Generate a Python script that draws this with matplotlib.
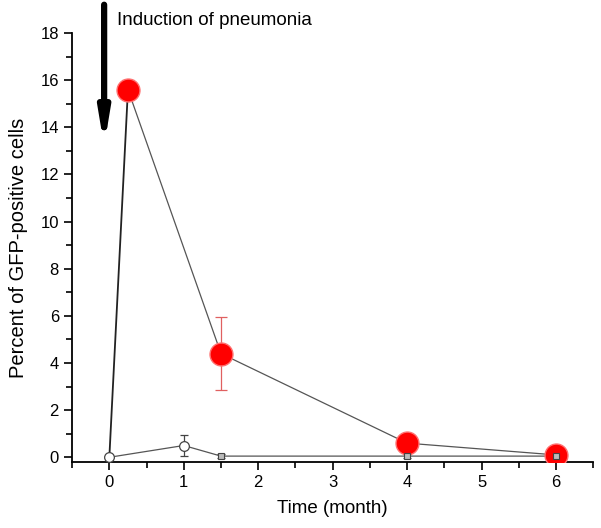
import matplotlib.pyplot as plt
import numpy as np

plt.rcParams['font.family'] = ['Liberation Sans', 'DejaVu Sans']

# --- data ---
# GFP-positive cells after pneumonia induction
red_x = [0.25, 1.5, 4, 6]
red_y = [15.6, 4.4, 0.6, 0.1]
red_err = [0.4, 1.55, 0.15, 0.1]

# control (no pneumonia)
ctrl_x = [0, 1, 1.5, 4, 6]
ctrl_y = [0.0, 0.5, 0.05, 0.05, 0.05]
ctrl_err = [0.0, 0.45, 0.1, 0.1, 0.1]

fig = plt.figure(figsize=(6.01, 5.28), dpi=100)
ax = fig.add_axes([0.12, 0.125, 0.867, 0.8125])

# induction line from baseline to the first red point
ax.plot([ctrl_x[0], red_x[0]], [ctrl_y[0], red_y[0]], color='#222222', lw=1.3, zorder=2)
ax.plot(red_x, red_y, color='#555555', lw=0.9, zorder=2)
ax.plot(ctrl_x, ctrl_y, color='#555555', lw=0.9, zorder=2)

ax.errorbar(red_x, red_y, yerr=red_err, fmt='none', ecolor='#e06060',
            elinewidth=0.9, capsize=4, capthick=0.9, zorder=3)
ax.errorbar(ctrl_x, ctrl_y, yerr=ctrl_err, fmt='none', ecolor='#444444',
            elinewidth=0.9, capsize=3, capthick=0.9, zorder=3)

ax.plot(red_x, red_y, 'o', ms=16.5, mfc='#ff0000', mec='#ff7070', mew=1.0, zorder=4)
ax.plot(ctrl_x[:2], ctrl_y[:2], 'o', ms=7, mfc='white', mec='#444444', mew=0.9, zorder=5)
ax.plot(ctrl_x[2:], ctrl_y[2:], 's', ms=5, mfc='#bbbbbb', mec='#444444', mew=0.8, zorder=5)

ax.set_xlim(-0.5, 6.5)
ax.set_ylim(-0.2, 18)
ax.set_xticks(range(0, 7))
ax.set_xticks(np.arange(-0.5, 6.6, 0.5), minor=True)
ax.set_yticks(range(0, 19, 2))
ax.set_yticks(range(0, 19, 1), minor=True)

for s in ['top', 'right']:
    ax.spines[s].set_visible(False)
for s in ['left', 'bottom']:
    ax.spines[s].set_linewidth(1.3)
ax.tick_params(which='major', direction='out', length=6, width=1.2, labelsize=12)
ax.tick_params(which='minor', direction='out', length=4, width=1.2)

ax.set_xlabel('Time (month)', fontsize=13.5, labelpad=7)
ax.set_ylabel('Percent of GFP-positive cells', fontsize=14.5, labelpad=9)

# arrow marking induction of pneumonia
ax.annotate('', xy=(-0.07, 13.2), xytext=(-0.07, 19.2),
            arrowprops=dict(arrowstyle='-|>,head_width=0.3,head_length=1.8',
                            color='black', lw=4.5, shrinkA=0, shrinkB=0),
            annotation_clip=False)
ax.text(0.1, 18.55, 'Induction of pneumonia', fontsize=13.5, va='center', ha='left')

fig.savefig('out.png', dpi=100)
